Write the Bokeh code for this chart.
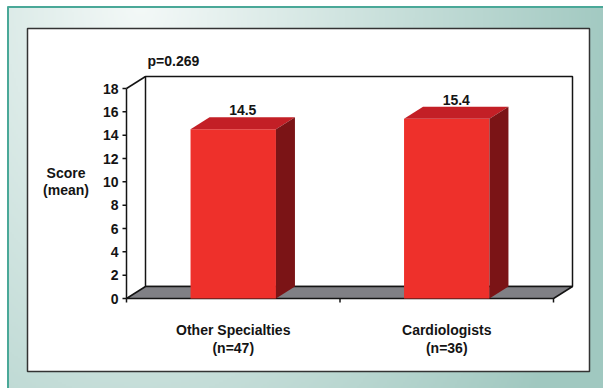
import numpy as np
from bokeh.plotting import figure
from bokeh.models import Range1d
from bokeh.core.properties import value
from bokeh.embed import file_html
from bokeh.resources import INLINE

# ---- data -------------------------------------------------------------
groups = ["Other Specialties", "Cardiologists"]
group_n = [47, 36]
scores = [14.5, 15.4]
y_ticks = [0, 2, 4, 6, 8, 10, 12, 14, 16, 18]
p_value_text = "p=0.269"
y_title = ["Score", "(mean)"]

# ---- layout helpers (page pixels -> data units) -------------------------
W, H = 603, 388
ORIGIN_PX, ORIGIN_PY = 126, 298          # where category 0 / score 0 sits
CAT_PX = 213.5                           # pixels per category slot
UNIT_PX = 210 / 18                       # pixels per score unit


def dx(px):
    return (px - ORIGIN_PX) / CAT_PX


def dy(py):
    return (ORIGIN_PY - py) / UNIT_PX


DEPTH_X = 19 / CAT_PX                    # 3-D depth offset
DEPTH_Y = 12 / UNIT_PX
Y_MAX = 18
N_CAT = len(groups)
HALF_BAR = 0.2

FONT = value("Liberation Sans")
INK = "#141414"

p = figure(width=W, height=H, x_range=Range1d(dx(0), dx(W)),
           y_range=Range1d(dy(H), dy(0)), min_border=0,
           toolbar_location=None, output_backend="svg",
           x_axis_location=None, y_axis_location=None)
p.grid.visible = False
p.outline_line_color = None
p.background_fill_color = "white"
p.border_fill_color = "white"

# ---- teal page background with soft radial shading -------------------
gx0, gy0 = 7, 6
step = 2
nw, nh = (W - gx0) // step, (H - gy0) // step + 1
cx = gx0 + (np.arange(nw) + 0.5) * step
cy = gy0 + (np.arange(nh) + 0.5) * step
XX, YY = np.meshgrid(cx, cy)
t = np.clip(np.sqrt(((XX - 140) / 480) ** 2 + (YY / 700) ** 2), 0, 1)
c_light = np.array([244, 249, 248])
c_dark = np.array([160, 200, 192])
rgb = c_light[None, None, :] * (1 - t[..., None]) + c_dark[None, None, :] * t[..., None]
rgba = np.empty((nh, nw, 4), dtype=np.uint8)
rgba[..., :3] = rgb.astype(np.uint8)
rgba[..., 3] = 255
img = rgba.view(np.uint32).reshape(nh, nw)[::-1]
p.image_rgba(image=[img], x=dx(gx0), y=dy(gy0 + nh * step),
             dw=dx(gx0 + nw * step) - dx(gx0), dh=dy(gy0) - dy(gy0 + nh * step))

# teal rule along top and left edge
p.segment(x0=[dx(gx0), dx(gx0 + 0.5)], y0=[dy(gy0 + 0.5), dy(gy0)],
          x1=[dx(W), dx(gx0 + 0.5)], y1=[dy(gy0 + 0.5), dy(H)],
          line_color="#4aa898", line_width=2)

# white chart panel
p.quad(left=dx(27), right=dx(589), top=dy(28), bottom=dy(371),
       fill_color="white", line_color="#333333", line_width=1.5)

# ---- 3-D frame: back wall, side wall edge, floor ---------------------
p.quad(left=DEPTH_X, right=N_CAT + DEPTH_X, bottom=DEPTH_Y, top=Y_MAX + DEPTH_Y,
       fill_color="white", line_color=INK, line_width=1.5)
p.patch(x=[0, N_CAT, N_CAT + DEPTH_X, DEPTH_X],
        y=[0, 0, DEPTH_Y, DEPTH_Y],
        fill_color="#808085", line_color=INK, line_width=1.5)
p.segment(x0=[0, 0], y0=[Y_MAX, 0], x1=[DEPTH_X, 0], y1=[Y_MAX + DEPTH_Y, Y_MAX],
          line_color=INK, line_width=1.5)

# ---- bars -------------------------------------------------------------
centers = [i + 0.5 for i in range(N_CAT)]
lefts = [c - HALF_BAR for c in centers]
rights = [c + HALF_BAR for c in centers]

p.quad(left=lefts, right=rights, bottom=0, top=scores,
       fill_color="#ee302b", line_color=None)
p.patches(xs=[[l, r, r + DEPTH_X, l + DEPTH_X] for l, r in zip(lefts, rights)],
          ys=[[v, v, v + DEPTH_Y, v + DEPTH_Y] for v in scores],
          fill_color="#c31f26", line_color=None)
p.patches(xs=[[r, r + DEPTH_X, r + DEPTH_X, r] for r in rights],
          ys=[[0, DEPTH_Y, v + DEPTH_Y, v] for v in scores],
          fill_color="#7b1416", line_color=None)

# value labels above each bar
p.text(x=[c + DEPTH_X / 2 for c in centers],
       y=[v + DEPTH_Y for v in scores], y_offset=-2,
       text=[f"{v:.1f}" for v in scores], text_font=FONT,
       text_font_style="bold", text_font_size="14px", text_color=INK,
       text_align="center", text_baseline="bottom")

# ---- y axis ticks and labels ------------------------------------------
tick_len = 4 / CAT_PX
p.segment(x0=[-tick_len] * len(y_ticks), y0=y_ticks, x1=[0] * len(y_ticks), y1=y_ticks,
          line_color=INK, line_width=1.5)
p.text(x=[dx(118)] * len(y_ticks), y=y_ticks, text=[str(v) for v in y_ticks],
       text_font=FONT, text_font_style="bold", text_font_size="14px",
       text_color=INK, text_align="right", text_baseline="middle")

# ---- x axis ticks and category labels ---------------------------------
x_ticks = list(range(N_CAT + 1))
p.segment(x0=x_ticks, y0=[0] * len(x_ticks), x1=x_ticks,
          y1=[-4 / UNIT_PX] * len(x_ticks), line_color=INK, line_width=1.5)
p.text(x=centers, y=[dy(329)] * N_CAT, text=groups, text_font=FONT,
       text_font_style="bold", text_font_size="14px", text_color=INK,
       text_align="center", text_baseline="middle")
p.text(x=centers, y=[dy(347)] * N_CAT, text=[f"(n={n})" for n in group_n],
       text_font=FONT, text_font_style="bold", text_font_size="14px",
       text_color=INK, text_align="center", text_baseline="middle")

# ---- titles ------------------------------------------------------------
p.text(x=[dx(65.5)] * 2, y=[dy(172), dy(189)], text=y_title, text_font=FONT,
       text_font_style="bold", text_font_size="14px", text_color=INK,
       text_align="center", text_baseline="middle")
p.text(x=[dx(147)], y=[dy(60)], text=[p_value_text], text_font=FONT,
       text_font_style="bold", text_font_size="14px", text_color=INK,
       text_align="left", text_baseline="middle")

open("out.html", "w").write(file_html(p, INLINE))
